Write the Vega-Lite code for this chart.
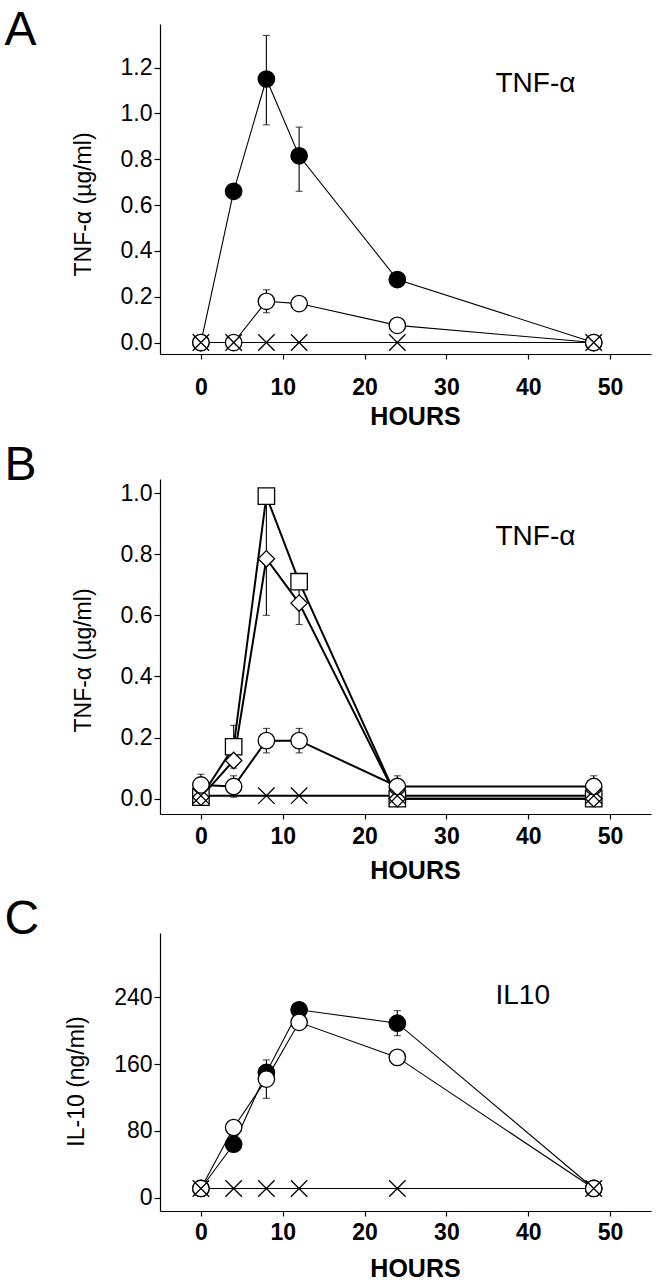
{
  "$schema": "https://vega.github.io/schema/vega-lite/v6.json",
  "padding": {"left": 4, "top": 6, "right": 5, "bottom": 0},
  "spacing": 12,
  "background": "white",
  "config": {
    "view": {"stroke": null},
    "font": "Liberation Sans",
    "axis": {"grid": false, "domainColor": "black", "tickColor": "black", "labelColor": "black", "titleColor": "black", "domainWidth": 1.2, "tickWidth": 1.2, "labelFont": "Liberation Sans", "titleFont": "Liberation Sans"},
    "axisX": {"labelFontSize": 23, "labelFontWeight": "bold", "titleFontSize": 25, "titleFontWeight": "bold", "tickSize": 5, "titleX": 255},
    "axisY": {"labelFontSize": 23, "labelFontWeight": "normal", "titleFontSize": 23, "titleFontWeight": "normal", "tickSize": 6, "labelPadding": 2, "titlePadding": 25}
  },
  "datasets": {
    "a": [
      {"group": "closed circle", "hours": 0, "value": 0},
      {"group": "closed circle", "hours": 4, "value": 0.66},
      {"group": "closed circle", "hours": 8, "value": 1.15, "lo": 0.95, "hi": 1.34},
      {"group": "closed circle", "hours": 12, "value": 0.815, "lo": 0.66, "hi": 0.94},
      {"group": "closed circle", "hours": 24, "value": 0.275},
      {"group": "closed circle", "hours": 48, "value": 0},
      {"group": "open circle", "hours": 0, "value": 0},
      {"group": "open circle", "hours": 4, "value": 0},
      {"group": "open circle", "hours": 8, "value": 0.18, "lo": 0.13, "hi": 0.23},
      {"group": "open circle", "hours": 12, "value": 0.17, "lo": 0.15, "hi": 0.19},
      {"group": "open circle", "hours": 24, "value": 0.075},
      {"group": "open circle", "hours": 48, "value": 0},
      {"group": "cross", "hours": 0, "value": 0},
      {"group": "cross", "hours": 4, "value": 0},
      {"group": "cross", "hours": 8, "value": 0},
      {"group": "cross", "hours": 12, "value": 0},
      {"group": "cross", "hours": 24, "value": 0},
      {"group": "cross", "hours": 48, "value": 0}
    ],
    "b": [
      {"group": "square", "hours": 0, "value": 0.005},
      {"group": "square", "hours": 4, "value": 0.17, "lo": 0.1, "hi": 0.24},
      {"group": "square", "hours": 8, "value": 0.99},
      {"group": "square", "hours": 12, "value": 0.71},
      {"group": "square", "hours": 24, "value": 0},
      {"group": "square", "hours": 48, "value": 0},
      {"group": "diamond", "hours": 0, "value": 0.005},
      {"group": "diamond", "hours": 4, "value": 0.125},
      {"group": "diamond", "hours": 8, "value": 0.785, "lo": 0.6, "hi": 0.98},
      {"group": "diamond", "hours": 12, "value": 0.64, "lo": 0.57, "hi": 0.71},
      {"group": "diamond", "hours": 24, "value": 0},
      {"group": "diamond", "hours": 48, "value": 0},
      {"group": "open circle", "hours": 0, "value": 0.045, "lo": 0.01, "hi": 0.08},
      {"group": "open circle", "hours": 4, "value": 0.04, "lo": 0.005, "hi": 0.075},
      {"group": "open circle", "hours": 8, "value": 0.19, "lo": 0.15, "hi": 0.23},
      {"group": "open circle", "hours": 12, "value": 0.19, "lo": 0.15, "hi": 0.23},
      {"group": "open circle", "hours": 24, "value": 0.04, "lo": 0.005, "hi": 0.075},
      {"group": "open circle", "hours": 48, "value": 0.04, "lo": 0.005, "hi": 0.075},
      {"group": "cross", "hours": 0, "value": 0.01},
      {"group": "cross", "hours": 8, "value": 0.01},
      {"group": "cross", "hours": 12, "value": 0.01},
      {"group": "cross", "hours": 24, "value": 0.01},
      {"group": "cross", "hours": 48, "value": 0.01}
    ],
    "c": [
      {"group": "closed circle", "hours": 0, "value": 11},
      {"group": "closed circle", "hours": 4, "value": 64},
      {"group": "closed circle", "hours": 8, "value": 150},
      {"group": "closed circle", "hours": 12, "value": 225},
      {"group": "closed circle", "hours": 24, "value": 209, "lo": 194, "hi": 224},
      {"group": "closed circle", "hours": 48, "value": 11},
      {"group": "open circle", "hours": 0, "value": 11},
      {"group": "open circle", "hours": 4, "value": 84},
      {"group": "open circle", "hours": 8, "value": 142, "lo": 119, "hi": 165},
      {"group": "open circle", "hours": 12, "value": 210},
      {"group": "open circle", "hours": 24, "value": 168},
      {"group": "open circle", "hours": 48, "value": 11},
      {"group": "cross", "hours": 0, "value": 11},
      {"group": "cross", "hours": 4, "value": 11},
      {"group": "cross", "hours": 8, "value": 11},
      {"group": "cross", "hours": 12, "value": 11},
      {"group": "cross", "hours": 24, "value": 11},
      {"group": "cross", "hours": 48, "value": 11}
    ]
  },
  "vconcat": [
    {
      "width": 491,
      "height": 330,
      "data": {"name": "a"},
      "layer": [
        {
          "data": {"values": [{"label": "A"}]},
          "mark": {"type": "text", "fontSize": 48, "font": "Liberation Sans", "align": "left", "baseline": "alphabetic", "color": "black"},
          "encoding": {
            "x": {"datum": -24, "type": "quantitative", "scale": {"domain": [-5, 55], "nice": false, "zero": false}},
            "y": {"datum": 1.3, "type": "quantitative", "scale": {"domain": [-0.05, 1.39], "nice": false, "zero": false}},
            "text": {"field": "label"}
          }
        },
        {
          "data": {"values": [{"label": "TNF-α"}]},
          "mark": {"type": "text", "fontSize": 28, "font": "Liberation Sans", "align": "left", "baseline": "alphabetic", "color": "black"},
          "encoding": {
            "x": {"datum": 36, "type": "quantitative"},
            "y": {"datum": 1.094, "type": "quantitative"},
            "text": {"field": "label"}
          }
        },
        {
          "mark": {"type": "line", "color": "black", "strokeWidth": 1.1},
          "encoding": {
            "x": {"field": "hours", "type": "quantitative", "axis": {"values": [0, 10, 20, 30, 40, 50], "title": "HOURS", "labelPadding": 17, "titlePadding": 5}},
            "y": {"field": "value", "type": "quantitative", "axis": {"values": [0, 0.2, 0.4, 0.6, 0.8, 1.0, 1.2], "format": ".1f", "title": "TNF-α (µg/ml)", "titleY": 180}},
            "detail": {"field": "group"},
            "order": {"field": "hours"}
          }
        },
        {
          "transform": [{"filter": "isValid(datum.lo)"}],
          "mark": {"type": "errorbar", "orient": "vertical", "color": "black", "thickness": 1.1, "ticks": {"size": 7, "thickness": 1.1}},
          "encoding": {
            "x": {"field": "hours", "type": "quantitative"},
            "y": {"field": "lo", "type": "quantitative", "title": "TNF-α (µg/ml)"},
            "y2": {"field": "hi"}
          }
        },
        {
          "mark": {"type": "point", "filled": true, "stroke": "black", "opacity": 1},
          "encoding": {
            "x": {"field": "hours", "type": "quantitative"},
            "y": {"field": "value", "type": "quantitative", "title": "TNF-α (µg/ml)"},
            "shape": {"field": "group", "scale": {"domain": ["closed circle", "open circle", "cross", "square", "diamond"], "range": ["circle", "circle", "M-1,-1L1,1M1,-1L-1,1", "square", "diamond"]}, "legend": null},
            "fill": {"field": "group", "scale": {"domain": ["closed circle", "open circle", "cross", "square", "diamond"], "range": ["black", "white", "white", "white", "white"]}, "legend": null},
            "size": {"field": "group", "scale": {"domain": ["closed circle", "open circle", "cross", "square", "diamond"], "range": [270, 270, 140, 290, 310]}, "legend": null},
            "strokeWidth": {"field": "group", "scale": {"domain": ["closed circle", "open circle", "cross", "square", "diamond"], "range": [1.3, 1.3, 2.5, 1.6, 1.6]}, "legend": null}
          }
        }
      ]
    },
    {
      "width": 491,
      "height": 335,
      "data": {"name": "b"},
      "layer": [
        {
          "data": {"values": [{"label": "B"}]},
          "mark": {"type": "text", "fontSize": 48, "font": "Liberation Sans", "align": "left", "baseline": "alphabetic", "color": "black"},
          "encoding": {
            "x": {"datum": -24, "type": "quantitative", "scale": {"domain": [-5, 55], "nice": false, "zero": false}},
            "y": {"datum": 1.044, "type": "quantitative", "scale": {"domain": [-0.05, 1.046], "nice": false, "zero": false}},
            "text": {"field": "label"}
          }
        },
        {
          "data": {"values": [{"label": "TNF-α"}]},
          "mark": {"type": "text", "fontSize": 28, "font": "Liberation Sans", "align": "left", "baseline": "alphabetic", "color": "black"},
          "encoding": {
            "x": {"datum": 36, "type": "quantitative"},
            "y": {"datum": 0.831, "type": "quantitative"},
            "text": {"field": "label"}
          }
        },
        {
          "mark": {"type": "line", "color": "black", "strokeWidth": 2},
          "encoding": {
            "x": {"field": "hours", "type": "quantitative", "axis": {"values": [0, 10, 20, 30, 40, 50], "title": "HOURS", "labelPadding": 6, "titlePadding": 10}},
            "y": {"field": "value", "type": "quantitative", "axis": {"values": [0, 0.2, 0.4, 0.6, 0.8, 1.0], "format": ".1f", "title": "TNF-α (µg/ml)", "titleY": 181}},
            "detail": {"field": "group"},
            "order": {"field": "hours"}
          }
        },
        {
          "transform": [{"filter": "isValid(datum.lo)"}],
          "mark": {"type": "errorbar", "orient": "vertical", "color": "black", "thickness": 1.1, "ticks": {"size": 7, "thickness": 1.1}},
          "encoding": {
            "x": {"field": "hours", "type": "quantitative"},
            "y": {"field": "lo", "type": "quantitative", "title": "TNF-α (µg/ml)"},
            "y2": {"field": "hi"}
          }
        },
        {
          "mark": {"type": "point", "filled": true, "stroke": "black", "opacity": 1},
          "encoding": {
            "x": {"field": "hours", "type": "quantitative"},
            "y": {"field": "value", "type": "quantitative", "title": "TNF-α (µg/ml)"},
            "shape": {"field": "group", "scale": {"domain": ["closed circle", "open circle", "cross", "square", "diamond"], "range": ["circle", "circle", "M-1,-1L1,1M1,-1L-1,1", "square", "diamond"]}, "legend": null},
            "fill": {"field": "group", "scale": {"domain": ["closed circle", "open circle", "cross", "square", "diamond"], "range": ["black", "white", "white", "white", "white"]}, "legend": null},
            "size": {"field": "group", "scale": {"domain": ["closed circle", "open circle", "cross", "square", "diamond"], "range": [270, 270, 140, 290, 310]}, "legend": null},
            "strokeWidth": {"field": "group", "scale": {"domain": ["closed circle", "open circle", "cross", "square", "diamond"], "range": [1.3, 1.3, 2.5, 1.6, 1.6]}, "legend": null}
          }
        }
      ]
    },
    {
      "width": 491,
      "height": 278,
      "data": {"name": "c"},
      "layer": [
        {
          "data": {"values": [{"label": "C"}]},
          "mark": {"type": "text", "fontSize": 48, "font": "Liberation Sans", "align": "left", "baseline": "alphabetic", "color": "black"},
          "encoding": {
            "x": {"datum": -24, "type": "quantitative", "scale": {"domain": [-5, 55], "nice": false, "zero": false}},
            "y": {"datum": 316, "type": "quantitative", "scale": {"domain": [-16, 317], "nice": false, "zero": false}},
            "text": {"field": "label"}
          }
        },
        {
          "data": {"values": [{"label": "IL10"}]},
          "mark": {"type": "text", "fontSize": 28, "font": "Liberation Sans", "align": "left", "baseline": "alphabetic", "color": "black"},
          "encoding": {
            "x": {"datum": 36, "type": "quantitative"},
            "y": {"datum": 232, "type": "quantitative"},
            "text": {"field": "label"}
          }
        },
        {
          "mark": {"type": "line", "color": "black", "strokeWidth": 1.1},
          "encoding": {
            "x": {"field": "hours", "type": "quantitative", "axis": {"values": [0, 10, 20, 30, 40, 50], "title": "HOURS", "labelPadding": 5, "titlePadding": 12}},
            "y": {"field": "value", "type": "quantitative", "axis": {"values": [0, 80, 160, 240], "title": "IL-10 (ng/ml)", "titleY": 148}},
            "detail": {"field": "group"},
            "order": {"field": "hours"}
          }
        },
        {
          "transform": [{"filter": "isValid(datum.lo)"}],
          "mark": {"type": "errorbar", "orient": "vertical", "color": "black", "thickness": 1.1, "ticks": {"size": 7, "thickness": 1.1}},
          "encoding": {
            "x": {"field": "hours", "type": "quantitative"},
            "y": {"field": "lo", "type": "quantitative", "title": "IL-10 (ng/ml)"},
            "y2": {"field": "hi"}
          }
        },
        {
          "mark": {"type": "point", "filled": true, "stroke": "black", "opacity": 1},
          "encoding": {
            "x": {"field": "hours", "type": "quantitative"},
            "y": {"field": "value", "type": "quantitative", "title": "IL-10 (ng/ml)"},
            "shape": {"field": "group", "scale": {"domain": ["closed circle", "open circle", "cross", "square", "diamond"], "range": ["circle", "circle", "M-1,-1L1,1M1,-1L-1,1", "square", "diamond"]}, "legend": null},
            "fill": {"field": "group", "scale": {"domain": ["closed circle", "open circle", "cross", "square", "diamond"], "range": ["black", "white", "white", "white", "white"]}, "legend": null},
            "size": {"field": "group", "scale": {"domain": ["closed circle", "open circle", "cross", "square", "diamond"], "range": [270, 270, 140, 290, 310]}, "legend": null},
            "strokeWidth": {"field": "group", "scale": {"domain": ["closed circle", "open circle", "cross", "square", "diamond"], "range": [1.3, 1.3, 2.5, 1.6, 1.6]}, "legend": null}
          }
        }
      ]
    }
  ]
}
